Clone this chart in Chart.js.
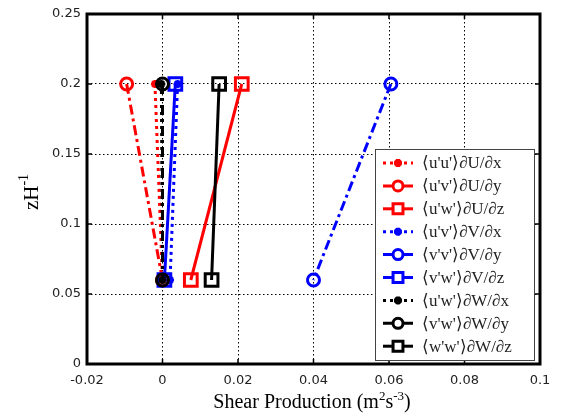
<!DOCTYPE html>
<html>
<head>
<meta charset="utf-8">
<script src="https://cdn.jsdelivr.net/npm/chart.js@4"></script>
<style>
  html, body { margin: 0; padding: 0; background: #fff; }
  #wrap { width: 562px; height: 417px; }
</style>
</head>
<body>
<div id="wrap"><canvas id="c" width="562" height="417"></canvas></div>
<script>
// ---------- dati ----------
const heights = [0.2, 0.06];

const labels = [
  "\u27E8u'u'\u27E9\u2202U/\u2202x",
  "\u27E8u'v'\u27E9\u2202U/\u2202y",
  "\u27E8u'w'\u27E9\u2202U/\u2202z",
  "\u27E8u'v'\u27E9\u2202V/\u2202x",
  "\u27E8v'v'\u27E9\u2202V/\u2202y",
  "\u27E8v'w'\u27E9\u2202V/\u2202z",
  "\u27E8u'w'\u27E9\u2202W/\u2202x",
  "\u27E8v'w'\u27E9\u2202W/\u2202y",
  "\u27E8w'w'\u27E9\u2202W/\u2202z",
];

// valori (alto, basso) per ogni termine
const uuDUdx = [-0.002, 0.0];
const uvDUdy = [-0.0095, 0.0];
const uwDUdz = [0.021, 0.0075];
const uvDVdx = [0.004, 0.002];
const vvDVdy = [0.0605, 0.04];
const vwDVdz = [0.0034, 0.0005];
const uwDWdx = [-0.0003, 0.0];
const vwDWdy = [0.0, 0.0];
const wwDWdz = [0.015, 0.013];

const xTicks = [-0.02, 0, 0.02, 0.04, 0.06, 0.08, 0.1];
const xTickLabels = ["-0.02", "0", "0.02", "0.04", "0.06", "0.08", "0.1"];
const yTicks = [0, 0.05, 0.1, 0.15, 0.2, 0.25];
const yTickLabels = ["0", "0.05", "0.1", "0.15", "0.2", "0.25"];

// ---------- stili ----------
const RED = "#ff0000", BLUE = "#0000ff", BLACK = "#000000";
const DOT = [3, 4];
const DASHDOT = [10, 4, 3, 4];
const SOLID = [];
const SERIF = "'Liberation Serif', 'Times New Roman', serif";

const series = [
  { vals: uuDUdx, color: RED, dash: DOT, marker: "star", r: 4 },
  { vals: uvDUdy, color: RED, dash: DASHDOT, marker: "circle", r: 6 },
  { vals: uwDUdz, color: RED, dash: SOLID, marker: "rect", r: 9 },
  { vals: uvDVdx, color: BLUE, dash: DOT, marker: "star", r: 4 },
  { vals: vvDVdy, color: BLUE, dash: DASHDOT, marker: "circle", r: 6 },
  { vals: vwDVdz, color: BLUE, dash: SOLID, marker: "rect", r: 9 },
  { vals: uwDWdx, color: BLACK, dash: DOT, marker: "star", r: 4 },
  { vals: vwDWdy, color: BLACK, dash: DASHDOT, marker: "circle", r: 6 },
  { vals: wwDWdz, color: BLACK, dash: SOLID, marker: "rect", r: 9 },
];

// le serie successive vanno disegnate sopra (come in MATLAB)
const datasets = series.map((s, i) => ({
  label: labels[i],
  order: -i,
  data: s.vals.map((v, k) => ({ x: v, y: heights[k] })),
  showLine: true,
  borderColor: s.color,
  borderWidth: 3,
  borderDash: s.dash,
  pointStyle: s.marker,
  pointRadius: s.r,
  pointBorderWidth: s.marker === "star" ? 2.5 : 3,
  pointBorderColor: s.color,
  pointBackgroundColor: "rgba(0,0,0,0)",
  fill: false,
}));

// ---------- plugin: cornice, tacche, titoli, legenda ----------
function drawParts(ctx, parts, cx, base) {
  let w = 0;
  parts.forEach(([t, f]) => { ctx.font = f; w += ctx.measureText(t).width; });
  let x = cx - w / 2;
  parts.forEach(([t, f, dy]) => {
    ctx.font = f; ctx.fillText(t, x, base + dy); x += ctx.measureText(t).width;
  });
}

const framePlugin = {
  id: "frame",
  afterDatasetsDraw(chart) {
    const { ctx, chartArea: a, scales } = chart;
    ctx.save();
    ctx.setLineDash([]);
    ctx.strokeStyle = "#000";
    ctx.lineWidth = 1.5;
    xTicks.forEach((v) => {
      const px = scales.x.getPixelForValue(v);
      ctx.beginPath();
      ctx.moveTo(px, a.bottom); ctx.lineTo(px, a.bottom - 5);
      ctx.moveTo(px, a.top); ctx.lineTo(px, a.top + 5);
      ctx.stroke();
    });
    yTicks.forEach((v) => {
      const py = scales.y.getPixelForValue(v);
      ctx.beginPath();
      ctx.moveTo(a.left, py); ctx.lineTo(a.left + 5, py);
      ctx.moveTo(a.right, py); ctx.lineTo(a.right - 5, py);
      ctx.stroke();
    });
    ctx.lineWidth = 3;
    ctx.strokeRect(a.left, a.top, a.right - a.left, a.bottom - a.top);
    ctx.restore();
  },
  afterDraw(chart) {
    const { ctx } = chart;
    ctx.save();
    ctx.fillStyle = "#000";
    ctx.textBaseline = "alphabetic";

    // titolo asse x con apici
    const big = "20px " + SERIF, small = "13px " + SERIF;
    drawParts(ctx, [
      ["Shear Production (m", big, 0],
      ["2", small, -8],
      ["s", big, 0],
      ["-3", small, -8],
      [")", big, 0],
    ], 312, 408);

    // titolo asse y ruotato
    ctx.translate(38, 192);
    ctx.rotate(-Math.PI / 2);
    drawParts(ctx, [["zH", "21px " + SERIF, 0], ["-1", "14px " + SERIF, -10]], 0, 0);
    ctx.restore();

    // legenda interna
    ctx.save();
    const bx = 375, by = 149, bw = 159, bh = 211;
    ctx.fillStyle = "#fff";
    ctx.fillRect(bx, by, bw, bh);
    ctx.strokeStyle = "#444";
    ctx.lineWidth = 1;
    ctx.strokeRect(bx + 0.5, by + 0.5, bw, bh);
    chart.data.datasets.forEach((ds, i) => {
      const y = 163 + i * 22.9;
      ctx.save();
      ctx.strokeStyle = ds.borderColor;
      ctx.lineWidth = 3;
      ctx.setLineDash(ds.borderDash);
      ctx.beginPath();
      ctx.moveTo(383, y); ctx.lineTo(413, y);
      ctx.stroke();
      ctx.setLineDash([]);
      ctx.fillStyle = "#fff";
      Chart.helpers.drawPoint(ctx, {
        pointStyle: ds.pointStyle,
        radius: ds.pointStyle === "rect" ? 7 : (ds.pointStyle === "circle" ? 5 : 4),
        borderWidth: 3,
        rotation: 0,
      }, 398, y);
      ctx.restore();
      ctx.fillStyle = "#222";
      ctx.font = "17px " + SERIF;
      ctx.textBaseline = "middle";
      ctx.fillText(ds.label, 422, y + 1);
    });
    ctx.restore();
  },
};

const tickFont = { family: "'DejaVu Sans', sans-serif", size: 13 };

new Chart(document.getElementById("c"), {
  type: "scatter",
  data: { datasets },
  options: {
    responsive: false,
    animation: false,
    events: [],
    layout: { padding: { left: 0, top: 14, right: 22, bottom: 0 } },
    plugins: { legend: { display: false }, tooltip: { enabled: false } },
    scales: {
      x: {
        type: "linear",
        min: -0.02,
        max: 0.1,
        afterBuildTicks: (s) => { s.ticks = xTicks.map((v) => ({ value: v })); },
        afterFit: (s) => { s.height = 53; },
        ticks: {
          padding: 9,
          color: "#222",
          font: tickFont,
          callback: (v, i) => xTickLabels[i],
          maxRotation: 0,
        },
        grid: { color: "#000", lineWidth: 1, drawTicks: false },
        border: { display: false, dash: [1.5, 2.5] },
      },
      y: {
        type: "linear",
        min: 0,
        max: 0.25,
        afterBuildTicks: (s) => { s.ticks = yTicks.map((v) => ({ value: v })); },
        afterFit: (s) => { s.width = 87; },
        ticks: {
          padding: 6,
          color: "#222",
          font: tickFont,
          callback: (v, i) => yTickLabels[i],
        },
        grid: { color: "#000", lineWidth: 1, drawTicks: false },
        border: { display: false, dash: [1.5, 2.5] },
      },
    },
  },
  plugins: [framePlugin],
});
</script>
</body>
</html>
